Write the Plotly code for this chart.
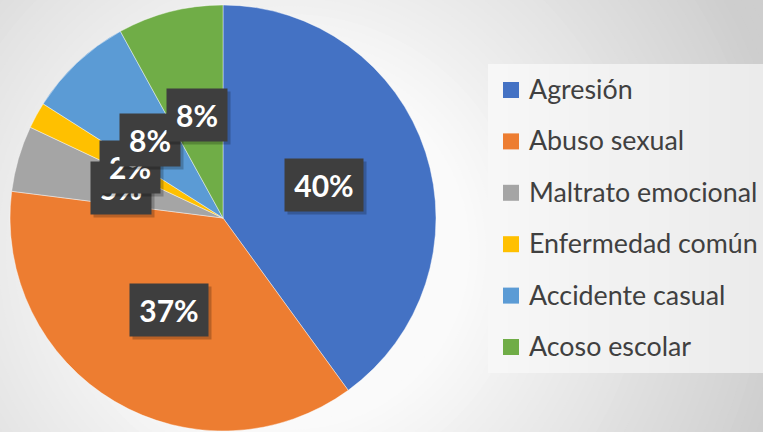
import math
import plotly.graph_objects as go

# ---- data ----
labels = ["Agresión", "Abuso sexual", "Maltrato emocional", "Enfermedad común", "Accidente casual", "Acoso escolar"]
values = [40, 37, 5, 2, 8, 8]
colors = ["#4472C4", "#ED7D31", "#A5A5A5", "#FFC000", "#5B9BD5", "#70AD47"]

# ---- geometry (pixels) ----
W, H = 763, 432
CX, CY, R = 223, 218, 213


def px(x):
    return x / W


def py(y):
    return 1 - y / H


fig = go.Figure()
fig.add_trace(go.Pie(
    labels=labels, values=values, sort=False, direction="clockwise", rotation=0,
    marker=dict(colors=colors, line=dict(color="rgba(255,255,255,0.6)", width=0.7)),
    textinfo="none", hoverinfo="label+percent", showlegend=False,
    domain=dict(x=[px(CX - R), px(CX + R)], y=[py(CY + R), py(CY - R)]),
))

shapes = []

# radial background gradient
GX, GY = 290, 250


def light(d):
    if d <= 180:
        return 250
    v = 250 - (d - 180) * 44 / 330
    return max(206, int(round(v)))


r = 660
while r >= 170:
    c = light(r)
    shapes.append(dict(type="circle", xref="paper", yref="paper", layer="below",
                       x0=px(GX - r), x1=px(GX + r), y0=py(GY + r), y1=py(GY - r),
                       fillcolor=f"rgb({c},{c},{c})", line=dict(width=0)))
    r -= 8

# legend box with horizontal gradient
LX0, LX1, LY0, LY1 = 488, 770, 64, 373
n = 14
for k in range(n):
    c = int(round(247 - k * 12 / (n - 1)))
    xa = LX0 + (LX1 - LX0) * k / n
    xb = LX0 + (LX1 - LX0) * (k + 1) / n + 1
    shapes.append(dict(type="rect", xref="paper", yref="paper", layer="below",
                       x0=px(xa), x1=px(xb), y0=py(LY1), y1=py(LY0),
                       fillcolor=f"rgb({c},{c},{c})", line=dict(width=0)))

annotations = []

# legend entries
for i, (lab, col) in enumerate(zip(labels, colors)):
    yc = 90 + 51.4 * i
    shapes.append(dict(type="rect", xref="paper", yref="paper", layer="above",
                       x0=px(503), x1=px(519), y0=py(yc + 8), y1=py(yc - 8),
                       fillcolor=col, line=dict(width=0)))
    annotations.append(dict(x=px(527), y=py(yc - 1), xref="paper", yref="paper",
                            xanchor="left", yanchor="middle", showarrow=False,
                            text=lab, font=dict(family="Lato", size=26.8, color="#404040")))

# data labels (percentages computed from values)
total = sum(values)
cum = 0
for i, v in enumerate(values):
    mid = (cum + v / 2) / total
    cum += v
    th = 2 * math.pi * mid
    x = CX + 0.5 * R * math.sin(th)
    y = CY - 0.5 * R * math.cos(th)
    txt = f"{round(100 * v / total)}%"
    bw = 78 if len(txt) >= 3 else 60
    common = dict(x=px(x), y=py(y), xref="paper", yref="paper", showarrow=False,
                  xanchor="center", yanchor="middle", width=bw, height=52, borderpad=0)
    # soft shadow box (no text)
    annotations.append(dict(common, xshift=3, yshift=-3, text=" ",
                            bgcolor="rgba(0,0,0,0.22)",
                            font=dict(family="Lato", size=30, color="rgba(0,0,0,0)")))
    annotations.append(dict(common, text=f"<b>{txt}</b>", bgcolor="#3e3e3e",
                            font=dict(family="Lato", size=30, color="#ffffff")))

fig.update_layout(
    width=W, height=H,
    margin=dict(l=0, r=0, t=0, b=0),
    paper_bgcolor="rgb(206,206,206)",
    plot_bgcolor="rgba(0,0,0,0)",
    shapes=shapes,
    annotations=annotations,
    showlegend=False,
)

fig.write_html("out.html", config={"displayModeBar": False},
               post_script="document.body.style.margin='0';document.body.style.overflow='hidden';")
